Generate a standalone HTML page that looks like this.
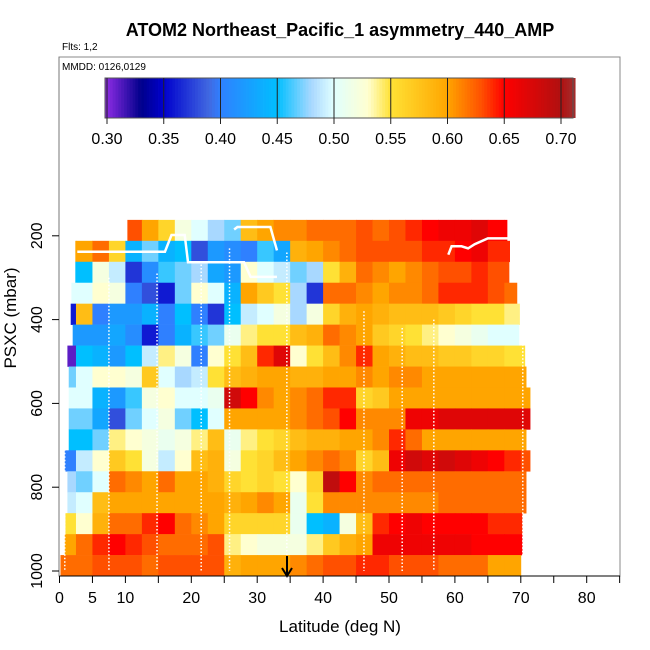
<!DOCTYPE html>
<html><head><meta charset="utf-8"><style>
html,body{margin:0;padding:0;background:#fff;}
svg{display:block;font-family:"Liberation Sans",sans-serif;}
</style></head><body>
<svg id="chart" width="650" height="650" viewBox="0 0 650 650">
<text x="340" y="36" text-anchor="middle" font-size="18" font-weight="bold">ATOM2 Northeast_Pacific_1 asymmetry_440_AMP</text>
<text x="62" y="50" font-size="10">Flts: 1,2</text>
<g id="heat"></g>
<g id="tracks"></g>
<rect x="59" y="57" width="561" height="519" fill="none" stroke="#888" stroke-width="1"/>
<line x1="59" y1="576" x2="620" y2="576" stroke="#000"/>
<line x1="59" y1="57" x2="59" y2="576" stroke="#777"/>
<text x="62" y="70" font-size="10">MMDD: 0126,0129</text>
<g id="cbar"></g>
<g id="xaxis"></g>
<g id="yaxis"></g>
<text x="340" y="632" text-anchor="middle" font-size="17">Latitude (deg N)</text>
<text transform="translate(16,318) rotate(-90)" text-anchor="middle" font-size="17">PSXC (mbar)</text>
<g>
<line x1="287" y1="556" x2="287" y2="575" stroke="#000" stroke-width="2"/>
<polyline points="282,568 287,576 292,568" fill="none" stroke="#000" stroke-width="2"/>
</g>
</svg>
<script>
// ---- data ----
const xTicks = [0,5,10,15,20,25,30,35,40,45,50,55,60,65,70,75,80,85];
const xTickLabels = ["0","5","10","","20","","30","","40","","50","","60","","70","","80",""];
const yTicks = [200,400,600,800,1000];
const cbarTicks = [0.30,0.35,0.40,0.45,0.50,0.55,0.60,0.65,0.70];
const rowPressure = [187,237,287,337,387,437,487,537,587,637,687,737,787,837,887,937,987];
const rowStartLat = [10.3,2.4,2.4,1.8,1.7,2.0,1.2,1.4,1.4,1.4,1.4,0.8,1.2,1.2,0.9,0.8,0.15];
const rowEndLat = [67.9,68.3,68.2,69.4,69.8,69.7,70.6,70.8,71.4,71.4,70.8,71.4,70.8,70.8,70.2,70.2,70.0];
const cellLat = 2.5;
const rowValues = [
[null,null,null,null,0.63,0.60,0.56,0.52,0.50,0.48,0.47,0.58,0.60,0.61,0.61,0.62,0.62,0.62,0.63,0.62,0.63,0.64,0.65,0.66,0.66,0.67,0.65,0.65,0.65],
[0.60,0.60,0.62,0.56,0.44,0.47,0.44,0.45,0.38,0.42,0.41,0.40,0.46,0.43,0.59,0.60,0.61,0.62,0.63,0.63,0.63,0.63,0.64,0.64,0.65,0.66,0.64,0.64,0.64],
[0.45,0.45,0.52,0.49,0.37,0.41,0.46,0.47,0.48,0.43,0.42,0.53,0.50,0.49,0.47,0.48,0.55,0.59,0.62,0.61,0.60,0.61,0.62,0.63,0.63,0.64,0.63,0.63,0.63],
[0.50,0.50,0.53,0.52,0.40,0.38,0.36,0.47,0.53,0.50,0.44,0.60,0.57,0.55,0.48,0.37,0.62,0.62,0.61,0.60,0.61,0.61,0.62,0.64,0.64,0.64,0.63,0.62,0.62],
[0.36,0.58,0.40,0.42,0.42,0.44,0.40,0.45,0.40,0.37,0.45,0.49,0.50,0.52,0.48,0.52,0.56,0.59,0.60,0.59,0.58,0.58,0.58,0.57,0.56,0.55,0.55,0.54,0.58],
[0.42,0.42,0.42,0.43,0.41,0.36,0.40,0.44,0.46,0.47,0.51,0.54,0.55,0.55,0.58,0.59,0.62,0.61,0.60,0.57,0.56,0.55,0.54,0.53,0.52,0.51,0.50,0.50,0.53],
[0.31,0.45,0.44,0.42,0.45,0.49,0.54,0.52,0.40,0.53,0.55,0.58,0.64,0.67,0.53,0.55,0.58,0.61,0.64,0.60,0.59,0.58,0.58,0.57,0.57,0.56,0.56,0.55,0.55],
[0.47,0.50,0.53,0.53,0.52,0.57,0.50,0.48,0.49,0.55,0.58,0.59,0.60,0.60,0.59,0.59,0.60,0.60,0.61,0.60,0.61,0.61,0.60,0.60,0.60,0.60,0.60,0.60,0.60],
[0.50,0.50,0.44,0.42,0.46,0.52,0.53,0.50,0.50,0.51,0.68,0.65,0.61,0.60,0.61,0.62,0.64,0.64,0.56,0.57,0.60,0.60,0.60,0.60,0.60,0.60,0.60,0.60,0.60],
[0.47,0.47,0.43,0.38,0.47,0.50,0.52,0.47,0.45,0.50,0.60,0.60,0.60,0.60,0.61,0.62,0.63,0.65,0.61,0.61,0.61,0.66,0.66,0.67,0.67,0.67,0.67,0.67,0.67],
[0.45,0.45,0.47,0.54,0.53,0.52,0.51,0.52,0.54,0.58,0.51,0.54,0.55,0.56,0.58,0.59,0.59,0.60,0.60,0.61,0.64,0.62,0.60,0.60,0.60,0.60,0.60,0.60,0.60],
[0.40,0.49,0.53,0.57,0.55,0.52,0.49,0.53,0.58,0.59,0.52,0.55,0.56,0.58,0.60,0.61,0.62,0.61,0.56,0.58,0.66,0.68,0.67,0.68,0.67,0.66,0.65,0.64,0.63],
[0.48,0.47,0.50,0.62,0.61,0.60,0.62,0.60,0.60,0.59,0.56,0.55,0.56,0.55,0.53,0.56,0.69,0.65,0.61,0.62,0.62,0.62,0.62,0.62,0.62,0.62,0.62,0.62,0.62],
[0.49,0.50,0.58,0.60,0.60,0.60,0.60,0.60,0.60,0.60,0.59,0.60,0.61,0.60,0.51,0.55,0.61,0.61,0.61,0.61,0.61,0.61,0.61,0.62,0.62,0.62,0.62,0.62,0.62],
[0.55,0.53,0.59,0.62,0.62,0.64,0.65,0.62,0.61,0.60,0.56,0.56,0.56,0.56,0.51,0.45,0.44,0.52,0.58,0.64,0.65,0.66,0.65,0.65,0.65,0.65,0.64,0.64,0.64],
[0.60,0.62,0.64,0.65,0.64,0.63,0.62,0.62,0.62,0.63,0.54,0.53,0.52,0.52,0.52,0.54,0.57,0.59,0.60,0.66,0.66,0.66,0.66,0.66,0.66,0.65,0.65,0.65,0.65],
[0.62,0.62,0.63,0.63,0.63,0.62,0.63,0.63,0.63,0.63,0.59,0.60,0.60,0.60,0.61,0.62,0.63,0.63,0.64,0.64,0.63,0.63,0.63,0.62,0.62,0.62,0.60,0.60,0.60]
];
const trackLat = [2.7,16,17,19,19.5,28,29,33];
const trackPres = [238,238,198,198,263,263,298,298];
const track2Lat = [26.5,27,32,33];
const track2Pres = [185,179,179,235];
const track3Lat = [59,59.5,61,62,63,65,68];
const track3Pres = [245,225,225,230,220,206,206];
const dropLat = [0.8,7.5,14.8,21.5,25.8,34.5,46.2,52.0,56.8,70.3];
const dropTopPres = [250,300,290,260,230,240,380,420,400,300];

// ---- scales ----
const xOf = lat => 59.5 + lat*6.59;
const yOf = p => 571 - (1000-p)*0.419;
const NS = "http://www.w3.org/2000/svg";
const stops = [[0.30,"#8a2be2"],[0.33,"#00008b"],[0.35,"#0000cd"],[0.39,"#4169e1"],[0.40,"#2f80ff"],[0.45,"#00bfff"],[0.48,"#a8d8ff"],[0.50,"#e0ffff"],[0.53,"#ffffd0"],[0.55,"#ffe135"],[0.60,"#ffa500"],[0.63,"#ff5000"],[0.65,"#ff0000"],[0.70,"#b01010"],[0.71,"#a52a2a"]];
function hex(h){return [parseInt(h.slice(1,3),16),parseInt(h.slice(3,5),16),parseInt(h.slice(5,7),16)];}
function colorOf(v){
  if(v<=stops[0][0]) return stops[0][1];
  for(let i=1;i<stops.length;i++){
    if(v<=stops[i][0]){
      const a=hex(stops[i-1][1]),b=hex(stops[i][1]);
      const t=(v-stops[i-1][0])/(stops[i][0]-stops[i-1][0]);
      return "rgb("+a.map((c,k)=>Math.round(c+(b[k]-c)*t)).join(",")+")";
    }
  }
  return stops[stops.length-1][1];
}
function mk(tag,attrs,parent){const e=document.createElementNS(NS,tag);for(const k in attrs)e.setAttribute(k,attrs[k]);parent.appendChild(e);return e;}

// ---- heatmap ----
const heat=document.getElementById('heat');
rowValues.forEach((row,r)=>{
  const y0=yOf(rowPressure[r]-25), y1=yOf(rowPressure[r]+25);
  row.forEach((v,c)=>{
    if(v===null) return;
    const a=Math.max(c*cellLat,rowStartLat[r]), b=Math.min((c+1)*cellLat,rowEndLat[r]);
    if(b<=a) return;
    const el=mk('rect',{x:xOf(a),y:y0,width:xOf(b)-xOf(a)+0.4,height:y1-y0+0.3,fill:colorOf(v)},heat);
    
    
  });
});

// ---- tracks ----
const tracks=document.getElementById('tracks');
[[trackLat,trackPres],[track2Lat,track2Pres],[track3Lat,track3Pres]].forEach(([la,pr])=>{
  const el=mk('polyline',{points:la.map((l,i)=>xOf(l)+","+yOf(pr[i])).join(" "),fill:"none",stroke:"#fff","stroke-width":2.5},tracks);
  
  
});
dropLat.forEach((l,i)=>{
  const el=mk('line',{x1:xOf(l),y1:yOf(dropTopPres[i]),x2:xOf(l),y2:yOf(1000),stroke:"#fff","stroke-width":1.5,"stroke-dasharray":"1.5 2"},tracks);
  
  
});

// ---- colorbar ----
const cb=document.getElementById('cbar');
const cbX=v=>107+(v-0.30)*1135;
for(let v=0.30;v<0.71;v+=0.0025){
  mk('rect',{x:cbX(v),y:78,width:3.2,height:40,fill:colorOf(v+0.00125)},cb);
}
mk('rect',{x:105,y:78,width:2.2,height:40,fill:colorOf(0.30)},cb);
mk('rect',{x:105,y:78,width:468,height:40,fill:"none",stroke:"#555"},cb);
cbarTicks.forEach(t=>{
  mk('line',{x1:cbX(t),y1:78,x2:cbX(t),y2:124,stroke:"#222","stroke-width":1},cb);
  const tx=mk('text',{x:cbX(t),y:144,"text-anchor":"middle","font-size":16},cb);
  tx.textContent=t.toFixed(2);
  
  
});

// ---- axes ----
const xa=document.getElementById('xaxis');
xTicks.forEach((t,i)=>{
  mk('line',{x1:xOf(t),y1:576,x2:xOf(t),y2:583,stroke:"#000"},xa);
  if(xTickLabels[i]){
    const tx=mk('text',{x:xOf(t),y:603,"text-anchor":"middle","font-size":16},xa);
    tx.textContent=xTickLabels[i];
    
    
  }
});
const ya=document.getElementById('yaxis');
yTicks.forEach(t=>{
  mk('line',{x1:52,y1:yOf(t),x2:59,y2:yOf(t),stroke:"#000"},ya);
  const tx=mk('text',{x:0,y:0,"text-anchor":"middle","font-size":16,transform:"translate(42,"+yOf(t)+") rotate(-90)"},ya);
  tx.textContent=String(t);
  
  
});
</script>
</body></html>
